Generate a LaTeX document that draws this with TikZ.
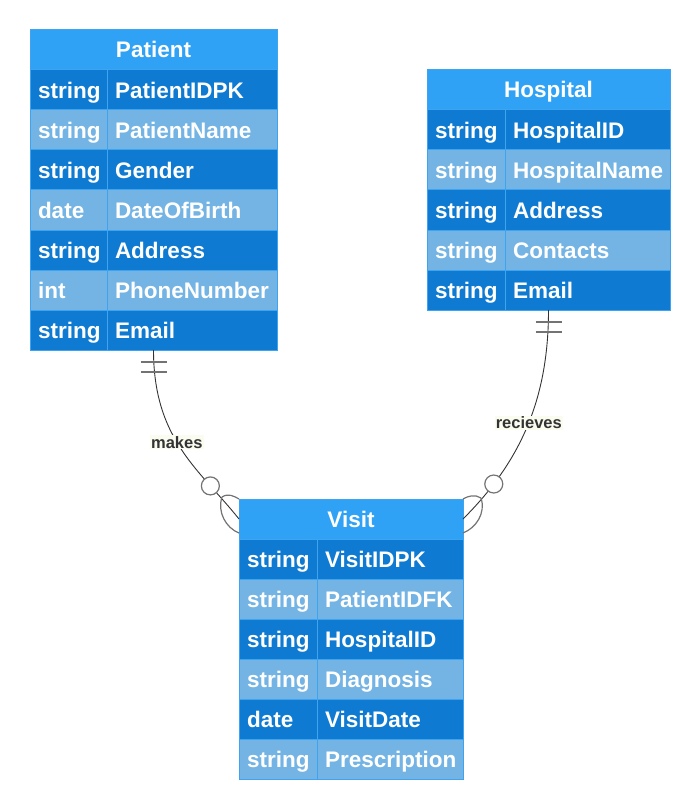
\documentclass[tikz,border=0pt]{standalone}
\usepackage{fontspec}
\setmainfont{Liberation Sans}
\usetikzlibrary{calc,positioning}

\definecolor{headblue}{HTML}{30A2F5}
\definecolor{darkrow}{HTML}{0E7AD1}
\definecolor{lightrow}{HTML}{74B4E4}
\definecolor{cellline}{HTML}{3FA4F0}
\definecolor{lblbg}{HTML}{FBFCF0}

\tikzset{
  head/.style={draw=cellline,line width=1pt,fill=headblue,text=white,anchor=north west,
    minimum height=40pt,inner sep=0pt,outer sep=0pt,text height=16pt,text depth=0pt,
    font=\fontsize{22.5}{26}\selectfont\bfseries},
  cell/.style={draw=cellline,line width=1pt,text=white,anchor=north west,
    minimum height=40pt,inner xsep=8pt,inner ysep=0pt,outer sep=0pt,
    text width=#1,align=left,text height=17pt,text depth=0pt,
    font=\fontsize{22.5}{26}\selectfont\bfseries},
  dark/.style={fill=darkrow},
  light/.style={fill=lightrow},
  rel/.style={draw=black!80,line width=0.9pt},
  endmark/.style={draw=black!55,line width=1.2pt},
  lbl/.style={fill=lblbg,text=black!80,inner sep=1pt,font=\fontsize{16.5}{19}\selectfont\bfseries}
}

\begin{document}
\begin{tikzpicture}[x=1pt,y=-1pt]
  \useasboundingbox (0,0) rectangle (700,810);

  % Patient
  \node[head,minimum width=247pt] (pat) at (30,30) {Patient};
  \node[cell=61pt,dark] (pat1t) at (30,70) {string};
  \node[cell=154pt,dark,right=0pt of pat1t] (pat1n) {PatientIDPK};
  \node[cell=61pt,light,below=0pt of pat1t] (pat2t) {string};
  \node[cell=154pt,light,right=0pt of pat2t] (pat2n) {PatientName};
  \node[cell=61pt,dark,below=0pt of pat2t] (pat3t) {string};
  \node[cell=154pt,dark,right=0pt of pat3t] (pat3n) {Gender};
  \node[cell=61pt,light,below=0pt of pat3t] (pat4t) {date};
  \node[cell=154pt,light,right=0pt of pat4t] (pat4n) {DateOfBirth};
  \node[cell=61pt,dark,below=0pt of pat4t] (pat5t) {string};
  \node[cell=154pt,dark,right=0pt of pat5t] (pat5n) {Address};
  \node[cell=61pt,light,below=0pt of pat5t] (pat6t) {int};
  \node[cell=154pt,light,right=0pt of pat6t] (pat6n) {PhoneNumber};
  \node[cell=61pt,dark,below=0pt of pat6t] (pat7t) {string};
  \node[cell=154pt,dark,right=0pt of pat7t] (pat7n) {Email};

  % Hospital
  \node[head,minimum width=243pt] (hos) at (427,70) {Hospital};
  \node[cell=62pt,dark] (hos1t) at (427,110) {string};
  \node[cell=149pt,dark,right=0pt of hos1t] (hos1n) {HospitalID};
  \node[cell=62pt,light,below=0pt of hos1t] (hos2t) {string};
  \node[cell=149pt,light,right=0pt of hos2t] (hos2n) {HospitalName};
  \node[cell=62pt,dark,below=0pt of hos2t] (hos3t) {string};
  \node[cell=149pt,dark,right=0pt of hos3t] (hos3n) {Address};
  \node[cell=62pt,light,below=0pt of hos3t] (hos4t) {string};
  \node[cell=149pt,light,right=0pt of hos4t] (hos4n) {Contacts};
  \node[cell=62pt,dark,below=0pt of hos4t] (hos5t) {string};
  \node[cell=149pt,dark,right=0pt of hos5t] (hos5n) {Email};

  % Visit
  \node[head,minimum width=224pt] (vis) at (239,499) {Visit};
  \node[cell=62pt,dark] (vis1t) at (239,539) {string};
  \node[cell=130pt,dark,right=0pt of vis1t] (vis1n) {VisitIDPK};
  \node[cell=62pt,light,below=0pt of vis1t] (vis2t) {string};
  \node[cell=130pt,light,right=0pt of vis2t] (vis2n) {PatientIDFK};
  \node[cell=62pt,dark,below=0pt of vis2t] (vis3t) {string};
  \node[cell=130pt,dark,right=0pt of vis3t] (vis3n) {HospitalID};
  \node[cell=62pt,light,below=0pt of vis3t] (vis4t) {string};
  \node[cell=130pt,light,right=0pt of vis4t] (vis4n) {Diagnosis};
  \node[cell=62pt,dark,below=0pt of vis4t] (vis5t) {date};
  \node[cell=130pt,dark,right=0pt of vis5t] (vis5n) {VisitDate};
  \node[cell=62pt,light,below=0pt of vis5t] (vis6t) {string};
  \node[cell=130pt,light,right=0pt of vis6t] (vis6n) {Prescription};

  % end points of the relations
  \coordinate (patB) at (pat.south |- pat7n.south);
  \coordinate (hosB) at (hos.south |- hos5n.south);
  \coordinate (jl) at ($(vis.west)+(-17,-22)$);
  \coordinate (jr) at ($(vis.east)+(18,-21)$);

  % makes
  \draw[rel] (patB) .. controls +(0,90) and +(-39,-49) .. (vis.west)
    node[pos=0.45,lbl] {makes} coordinate[pos=0.76] (cl);
  \draw[endmark] ($(patB)+(-13,12)$) -- ($(patB)+(13,12)$);
  \draw[endmark] ($(patB)+(-13,22)$) -- ($(patB)+(13,22)$);
  \draw[endmark,fill=white] (cl) circle (9);
  \draw[endmark] (jl) .. controls +(6,-4) and +(-5,-3) .. (vis.north west);
  \draw[endmark] (jl) .. controls +(-5,15) and +(-13,-5) .. ($(vis.west)+(0,14)$);

  % recieves
  \draw[rel] (hosB) .. controls +(0,90) and +(57,-57) .. (vis.east)
    node[pos=0.48,lbl] {recieves} coordinate[pos=0.8] (cr);
  \draw[endmark] ($(hosB)+(-13,12)$) -- ($(hosB)+(13,12)$);
  \draw[endmark] ($(hosB)+(-13,22)$) -- ($(hosB)+(13,22)$);
  \draw[endmark,fill=white] (cr) circle (9);
  \draw[endmark] (jr) .. controls +(-6,-4) and +(5,-3) .. (vis.north east);
  \draw[endmark] (jr) .. controls +(5,15) and +(13,-5) .. ($(vis.east)+(0,14)$);
\end{tikzpicture}
\end{document}
